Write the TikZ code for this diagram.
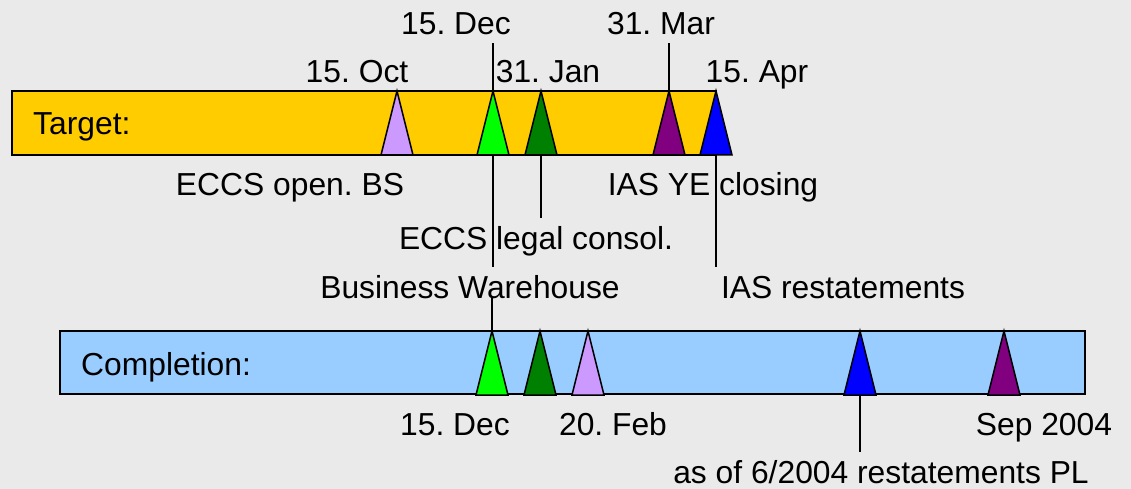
\documentclass[tikz,border=0pt]{standalone}
\usepackage{fontspec}
\setmainfont{Liberation Sans}
\usepackage{tikz}
\usepackage[dvipsnames]{xcolor}
\frenchspacing

\definecolor{bggray}{HTML}{EAEAEA}
\definecolor{targetbar}{HTML}{FFCC00}
\definecolor{donebar}{HTML}{99CCFF}
\definecolor{lavender}{HTML}{CC99FF}
\definecolor{brightgreen}{HTML}{00FF00}
\definecolor{darkgreen}{HTML}{008000}
\definecolor{darkpurple}{HTML}{800080}
\definecolor{pureblue}{HTML}{0000FF}

\newcommand{\lblfont}{\fontsize{31.8}{33}\selectfont}
% milestone triangle: name, x, top y, colour
\newcommand{\mstone}[4]{%
  \draw[tri, fill=#4] (#2-16,#3+64) -- (#2,#3) -- (#2+16,#3+64) -- cycle;
  \coordinate (#1-top) at (#2,#3);
  \coordinate (#1-bot) at (#2,#3+64);}

\begin{document}
\begin{tikzpicture}[x=1pt,y=-1pt,
  bar/.style={draw=black, line width=1.5pt},
  tri/.style={draw=black, line width=1.5pt, line join=miter},
  lbl/.style={font=\lblfont, inner sep=0pt, text height=31pt, text depth=8pt, anchor=base},
  conn/.style={line width=1.3pt}]
\fill[bggray] (0,0) rectangle (1131,489);
\useasboundingbox (0,0) rectangle (1131,489);

% bars
\draw[bar, fill=targetbar] (12,91) rectangle (716,155);
\node[lbl, anchor=base west] (target) at (33,135) {Target:};
\draw[bar, fill=donebar] (60,331) rectangle (1085,394);
\node[lbl, anchor=base west] (completion) at (81,375) {Completion:};

% target milestones
\mstone{tOct}{397}{91}{lavender}
\mstone{tDec}{493}{91}{brightgreen}
\mstone{tJan}{541}{91}{darkgreen}
\mstone{tMar}{669}{91}{darkpurple}
\mstone{tApr}{716}{91}{pureblue}

% completion milestones
\mstone{cDec}{492}{331}{brightgreen}
\mstone{cJan}{540}{331}{darkgreen}
\mstone{cFeb}{588}{331}{lavender}
\mstone{cApr}{860}{331}{pureblue}
\mstone{cMar}{1004}{331}{darkpurple}

% dates
\node[lbl] (dDec) at (456,35) {15. Dec};
\node[lbl] (dMar) at (661,35) {31. Mar};
\node[lbl] (dOct) at (357,83) {15. Oct};
\node[lbl] (dJan) at (548,83) {31. Jan};
\node[lbl] (dApr) at (757,83) {15. Apr};
\node[lbl] (eDec) at (455,435) {15. Dec};
\node[lbl] (eFeb) at (613,435) {20. Feb};
\node[lbl] (eSep) at (1044,435) {Sep 2004};

% tasks
\node[lbl] (openBS) at (290,195) {ECCS open. BS};
\node[lbl] (yeClose) at (713,195) {IAS YE closing};
\node[lbl] (legal) at (536,249) {ECCS legal consol.};
\node[lbl] (bw) at (470,298) {Business Warehouse};
\node[lbl] (restate) at (843,298) {IAS restatements};
\node[lbl] (restatePL) at (881,483) {as of 6/2004 restatements PL};

% connectors
\draw[conn] (tDec-top) -- (tDec-top |- dDec.south);
\draw[conn] (tMar-top) -- (tMar-top |- dMar.south);
\draw[conn] (tDec-bot) -- (tDec-bot |- bw.north);
\draw[conn] (tJan-bot) -- (tJan-bot |- legal.north);
\draw[conn] (tApr-bot) -- (tApr-bot |- restate.north);
\draw[conn] (cDec-top) -- (cDec-top |- bw.base);
\draw[conn] (cApr-bot) -- (cApr-bot |- restatePL.north);
\end{tikzpicture}
\end{document}
